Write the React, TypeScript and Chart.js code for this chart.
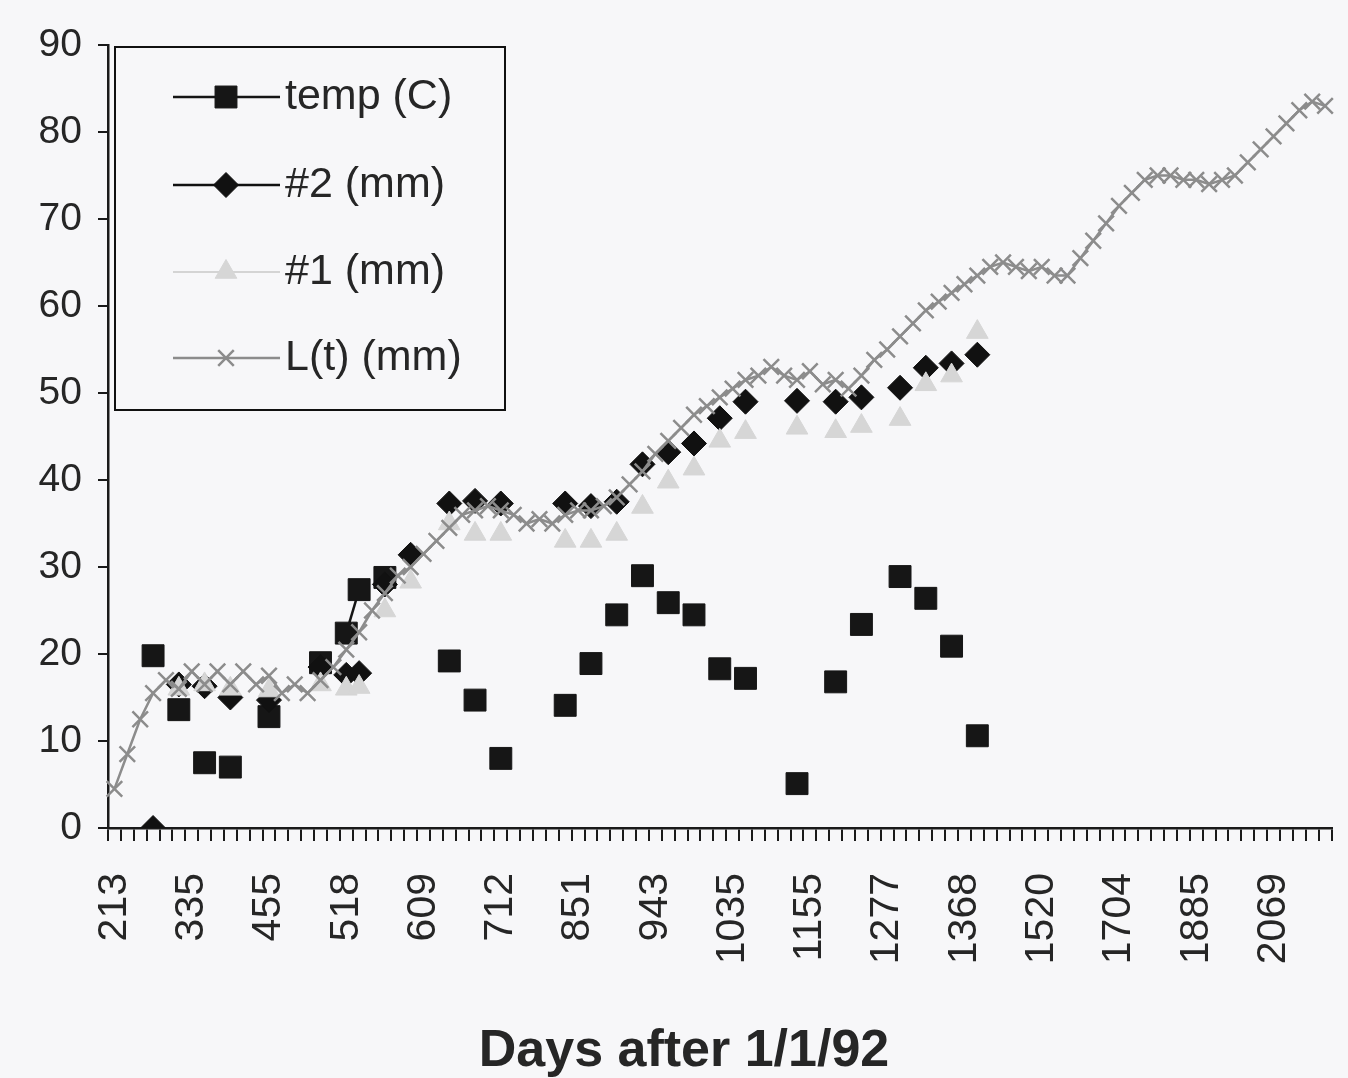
import React, { useEffect, useRef } from 'react';
import { Chart, registerables } from 'chart.js';
import { drawPoint } from 'chart.js/helpers';

Chart.register(...registerables);

// ---------- data ----------
const categoryCount = 95;
const labelEvery = 6;
const labeledDays = ['213', '335', '455', '518', '609', '712', '851', '943', '1035', '1155', '1277', '1368', '1520', '1704', '1885', '2069'];

const tempIdx = [3, 5, 7, 9, 12, 16, 18, 19, 21, 26, 28, 30, 35, 37, 39, 41, 43, 45, 47, 49, 53, 56, 58, 61, 63, 65, 67];
const tempVals = [19.8, 13.6, 7.5, 7.0, 12.8, 19.0, 22.4, 27.4, 28.8, 19.2, 14.7, 8.0, 14.1, 18.9, 24.5, 29.0, 25.9, 24.5, 18.3, 17.2, 5.1, 16.8, 23.4, 28.9, 26.4, 20.9, 10.6];

const no2Idx = [3, 5, 7, 9, 12, 16, 18, 19, 21, 23, 26, 28, 30, 35, 37, 39, 41, 43, 45, 47, 49, 53, 56, 58, 61, 63, 65, 67];
const no2Vals = [0, 16.5, 16.3, 15.0, 14.7, 18.5, 17.6, 17.8, 28, 31.4, 37.3, 37.6, 37.3, 37.3, 37.0, 37.5, 41.8, 43.2, 44.2, 47.1, 49.0, 49.1, 49.0, 49.5, 50.6, 52.9, 53.4, 54.4];

const no1Idx = [5, 7, 9, 12, 16, 18, 19, 21, 23, 26, 28, 30, 35, 37, 39, 41, 43, 45, 47, 49, 53, 56, 58, 61, 63, 65, 67];
const no1Vals = [16, 16.5, 16, 15.8, 16.5, 16, 16.2, 25, 28.3, 35, 33.8, 33.8, 33.0, 33.0, 33.8, 36.9, 39.8, 41.3, 44.5, 45.5, 46.0, 45.6, 46.2, 47.0, 51.0, 52.0, 57.0];

const ltVals = [
  4.5, 8.5, 12.5, 15.5, 17, 16, 18, 16.5, 18, 16.5,
  18, 16.5, 17.5, 15.5, 16.5, 15.5, 17, 18.5, 20.5, 22.5,
  25, 27, 29, 30, 31.5, 33, 34.5, 36, 36.5, 37,
  36.5, 36, 35, 35.5, 35, 36, 36.5, 36.5, 37, 38,
  39.5, 41, 43, 44.5, 46, 47.5, 48.5, 49.5, 50.5, 51.5,
  52, 53, 52, 51.5, 52.5, 51, 51.5, 50.5, 52, 53.8,
  55, 56.5, 58, 59.5, 60.5, 61.5, 62.5, 63.5, 64.5, 65,
  64.5, 64, 64.5, 63.5, 63.5, 65.5, 67.5, 69.5, 71.5, 73,
  74.5, 75, 75, 74.5, 74.5, 74, 74.5, 75, 76.5, 78,
  79.5, 81, 82.5, 83.5, 83,
];

const yMin = 0;
const yMax = 90;
const yStep = 10;

// ---------- helpers ----------
const categoryLabels = Array.from({ length: categoryCount }, (_, i) =>
  i % labelEvery === 0 && labeledDays[i / labelEvery] !== undefined ? labeledDays[i / labelEvery] : ''
);

function sparse(idx: number[], vals: number[]): (number | null)[] {
  const arr: (number | null)[] = Array(categoryCount).fill(null);
  idx.forEach((i, k) => {
    arr[i] = vals[k];
  });
  return arr;
}

const BG = '#f7f7f9';
const TEXT = '#262626';
const FONT = "'Liberation Sans', Arial, sans-serif";

const bgPlugin = {
  id: 'bgFill',
  beforeDraw(chart: any) {
    const { ctx, width, height } = chart;
    ctx.save();
    ctx.fillStyle = BG;
    ctx.fillRect(0, 0, width, height);
    ctx.restore();
  },
};

const boxLegendPlugin = {
  id: 'boxLegend',
  afterDraw(chart: any) {
    const ctx = chart.ctx;
    const box = { x: 115, y: 47, w: 390, h: 363 };
    const rows = [97, 185, 272, 358];
    ctx.save();
    ctx.fillStyle = BG;
    ctx.fillRect(box.x, box.y, box.w, box.h);
    ctx.strokeStyle = '#111';
    ctx.lineWidth = 2;
    ctx.strokeRect(box.x, box.y, box.w, box.h);
    chart.data.datasets.forEach((ds: any, k: number) => {
      const y = rows[k];
      ctx.strokeStyle = ds.borderColor;
      ctx.lineWidth = ds.borderWidth;
      ctx.beginPath();
      ctx.moveTo(173, y);
      ctx.lineTo(280, y);
      ctx.stroke();
      ctx.fillStyle = ds.pointBackgroundColor;
      ctx.strokeStyle = ds.pointBorderColor;
      ctx.lineWidth = ds.pointBorderWidth;
      drawPoint(ctx, { pointStyle: ds.pointStyle, radius: ds.pointRadius, rotation: 0, borderWidth: ds.pointBorderWidth } as any, 226, y);
      ctx.fillStyle = TEXT;
      ctx.font = `43px ${FONT}`;
      ctx.textBaseline = 'middle';
      ctx.textAlign = 'left';
      ctx.fillText(ds.label, 285, y);
    });
    ctx.restore();
  },
};

export default function App() {
  const canvasRef = useRef<HTMLCanvasElement | null>(null);

  useEffect(() => {
    if (!canvasRef.current) return;
    const chart = new Chart(canvasRef.current, {
      type: 'line',
      data: {
        labels: categoryLabels,
        datasets: [
          {
            label: 'temp (C)',
            data: sparse(tempIdx, tempVals),
            borderColor: '#151515',
            borderWidth: 2.5,
            pointStyle: 'rect',
            pointRadius: 15.5,
            pointBackgroundColor: '#161616',
            pointBorderColor: '#161616',
            pointBorderWidth: 1,
            spanGaps: false,
            order: 4,
          },
          {
            label: '#2 (mm)',
            data: sparse(no2Idx, no2Vals),
            borderColor: '#111111',
            borderWidth: 2.5,
            pointStyle: 'rectRot',
            pointRadius: 12.5,
            pointBackgroundColor: '#111111',
            pointBorderColor: '#111111',
            pointBorderWidth: 1,
            spanGaps: false,
            order: 3,
          },
          {
            label: '#1 (mm)',
            data: sparse(no1Idx, no1Vals),
            borderColor: '#d4d4d4',
            borderWidth: 2,
            pointStyle: 'triangle',
            pointRadius: 12.5,
            pointBackgroundColor: '#d6d6d6',
            pointBorderColor: '#d6d6d6',
            pointBorderWidth: 1,
            spanGaps: false,
            order: 2,
          },
          {
            label: 'L(t) (mm)',
            data: ltVals,
            borderColor: '#8c8c8c',
            borderWidth: 2.5,
            pointStyle: 'crossRot',
            pointRadius: 11,
            pointBackgroundColor: '#8c8c8c',
            pointBorderColor: '#8c8c8c',
            pointBorderWidth: 2.5,
            spanGaps: false,
            order: 1,
          },
        ],
      },
      options: {
        animation: false,
        responsive: false,
        devicePixelRatio: 1,
        layout: { padding: { left: 28, right: 8, top: 45, bottom: 0 } },
        plugins: {
          legend: { display: false },
          tooltip: { enabled: false },
          title: {
            display: true,
            position: 'bottom',
            text: 'Days after 1/1/92',
            color: TEXT,
            font: { family: FONT, size: 52, weight: 'bold', lineHeight: 1.0 },
            padding: { top: 0, bottom: 0 },
          },
        },
        scales: {
          x: {
            type: 'category',
            offset: true,
            grid: {
              offset: true,
              drawOnChartArea: false,
              drawTicks: true,
              tickLength: 13,
              color: '#1a1a1a',
              lineWidth: 2,
            },
            border: { display: true, color: '#1a1a1a', width: 2.5 },
            ticks: {
              autoSkip: false,
              minRotation: 90,
              maxRotation: 90,
              padding: 32,
              color: TEXT,
              font: { family: FONT, size: 41 },
            },
            afterFit(scale: any) {
              scale.height = 198;
              scale.paddingLeft = 0;
              scale.paddingRight = 0;
            },
          },
          y: {
            min: yMin,
            max: yMax,
            grid: {
              drawOnChartArea: false,
              drawTicks: true,
              tickLength: 10,
              color: '#1a1a1a',
              lineWidth: 2,
            },
            border: { display: true, color: '#1a1a1a', width: 2.5 },
            ticks: {
              stepSize: yStep,
              padding: 16,
              color: TEXT,
              font: { family: FONT, size: 39 },
            },
            afterFit(scale: any) {
              scale.width = 80;
            },
          },
        },
      },
      plugins: [bgPlugin, boxLegendPlugin],
    } as any);
    return () => chart.destroy();
  }, []);

  return (
    <div style={{ position: 'absolute', left: 0, top: 0, width: 1348, height: 1078 }}>
      <canvas ref={canvasRef} width={1348} height={1078} style={{ width: 1348, height: 1078, display: 'block' }} />
    </div>
  );
}
